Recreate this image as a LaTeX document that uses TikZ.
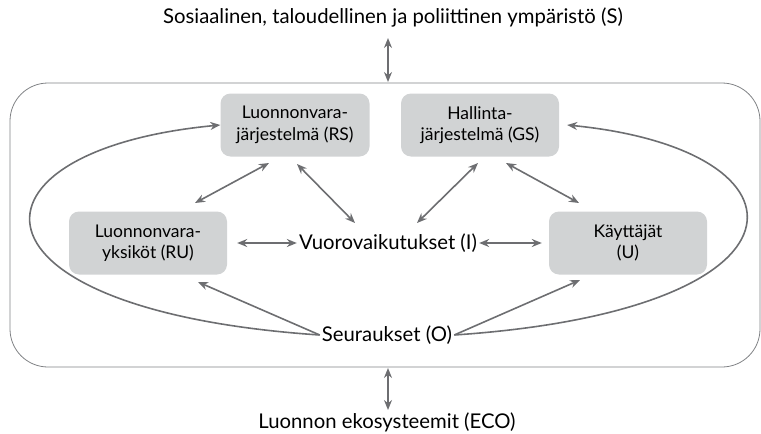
\documentclass[tikz,border=0pt]{standalone}
\usepackage{fontspec}
\setmainfont{Lato}
\usetikzlibrary{arrows.meta}
\definecolor{arrgray}{HTML}{6D6E71}
\definecolor{boxgray}{HTML}{D1D3D4}
\definecolor{framegray}{HTML}{808285}
\begin{document}
\begin{tikzpicture}[
    x=1pt, y=-1pt,
    font=\fontsize{20.3}{24}\selectfont,
    sysbox/.style={rectangle, rounded corners=10pt, fill=boxgray, align=center, minimum width=158pt, minimum height=63pt, inner sep=2pt, font=\fontsize{17.5}{21.5}\selectfont},
    lbl/.style={inner sep=2pt},
    arr/.style={{Stealth[length=10pt,width=8pt]}-{Stealth[length=10pt,width=8pt]}, line width=1.6pt, draw=arrgray},
    onearr/.style={-{Stealth[length=10pt,width=8pt]}, line width=1.6pt, draw=arrgray},
    frame/.style={draw=framegray, line width=0.8pt, rounded corners=38pt}
]
    \useasboundingbox (0,0) rectangle (761,434);

    % Outer frame
    \draw[frame] (10,83) rectangle (760,367);
    \coordinate (ftop) at (388,82);
    \coordinate (fbot) at (388,368);

    % Environments outside the frame
    \node[lbl] (S) at (393,17) {Sosiaalinen, taloudellinen ja poliittinen ympäristö (S)};
    \node[lbl] (ECO) at (387,422) {Luonnon ekosysteemit (ECO)};

    % Subsystems
    \node[sysbox, minimum width=149pt] (RS) at (295,125) {Luonnonvara-\\järjestelmä (RS)};
    \node[sysbox] (GS) at (480,125) {Hallinta-\\järjestelmä (GS)};
    \node[sysbox] (RU) at (148,243) {Luonnonvara-\\yksiköt (RU)};
    \node[sysbox] (U) at (628,243) {Käyttäjät\\(U)};
    \node[lbl] (I) at (388,243) {Vuorovaikutukset (I)};
    \node[lbl] (O) at (387,335) {Seuraukset (O)};

    % Links to the environments
    \draw[arr] (388,38) -- (ftop);
    \draw[arr] (fbot) -- (388,410);

    % Interactions
    \draw[arr] (269,163) -- (195,203);
    \draw[arr] (297,164) -- (355,223);
    \draw[arr] (478,163) -- (417,223);
    \draw[arr] (506,163) -- (579,203);
    \draw[arr] ([xshift=10pt]RU.east) -- (I.west);
    \draw[arr] (I.east) -- ([xshift=-7pt]U.west);

    % Outcomes
    \draw[onearr] (O.west) -- (198,282);
    \draw[onearr] (O.east) -- (580,280);
    \draw[onearr] (O.west) .. controls (-50,310) and (-45,150) .. (RS.west);
    \draw[onearr] (O.east) .. controls (825,310) and (820,150) .. ([xshift=8pt]GS.east);

\end{tikzpicture}
\end{document}
